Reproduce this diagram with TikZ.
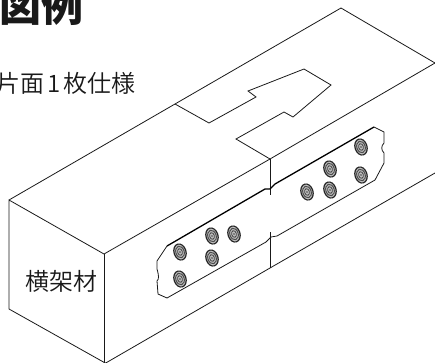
\documentclass[tikz,border=0pt]{standalone}
\usepackage{fontspec}
\newfontfamily\jpfont{Noto Sans CJK JP}
\newfontfamily\jplight{Noto Sans CJK JP DemiLight}
\newcommand{\boltmark}[1]{%
  \begin{scope}[shift={#1},rotate=17]
    \fill[black!25] (0,0) ellipse [x radius=6.2,y radius=8.4];
    \draw[line width=1.2pt,black!85] (0,0) ellipse [x radius=6,y radius=8.2];
    \draw[line width=1pt,black!70] (0,0) ellipse [x radius=4.2,y radius=5.9];
    \draw[line width=.8pt,black!75] (0,0) ellipse [x radius=2.4,y radius=3.4];
    \fill[black!70] (0,0) ellipse [x radius=.8,y radius=1.1];
  \end{scope}}
\tikzset{edge/.style={line width=.8pt,line join=miter,black!90},
  plateedge/.style={line width=1.3pt,black},
  label/.style={inner sep=0pt,font=\jpfont,text=black!90}}
\begin{document}
\begin{tikzpicture}[x=1pt,y=-1pt]
\useasboundingbox (0,0) rectangle (435,362);
\clip (0,0) rectangle (435,362);
% beam outline
\draw[edge] (9,200) -- (341,8) -- (435,63) -- (270,159) -- (104,254) -- (9,200) -- (9,309) -- (107,364);
\draw[edge] (104,254) -- (104,364);
\draw[edge] (104,364) -- (270,268) -- (435,173);
% arrow on the top face
\draw[edge] (175,104) -- (209,123) -- (256,97) -- (248,91) -- (304,69) -- (331,85) -- (293,117) -- (284,112) -- (236,139) -- (270,159);
% joint
\draw[edge] (270,159) -- (270,195);
\draw[edge] (270,232) -- (270,268);
% plate
\draw[edge] (167,298) -- (158,294) -- (157,281) .. controls (159,279) and (159,276) .. (157,269) -- (157,261) -- (167,246);
\draw[plateedge] (167,246) -- (265,189) -- (270,189) -- (275,184) -- (374,127);
\draw[edge] (374,127) -- (384,132) -- (384,143) .. controls (381,146) and (381,150) .. (384,153) -- (384,163) -- (375,180) -- (277,236) -- (271,237) -- (266,242) -- (167,298);
% bolts
\boltmark{(180,252)}
\boltmark{(212,236)}
\boltmark{(234,234)}
\boltmark{(212,258)}
\boltmark{(180,279)}
\boltmark{(361,147)}
\boltmark{(330,169)}
\boltmark{(361,175)}
\boltmark{(330,190)}
\boltmark{(307,192)}
% texts
\node[label,font=\jpfont\bfseries\fontsize{42}{42}\selectfont,anchor=center] (title) at (41,6) {図例};
\node[label,font=\jplight\fontsize{24}{24}\selectfont,anchor=east] (spec) at (136,83) {片面\hspace{2.9pt}1\hspace{2.9pt}枚仕様};
\node[label,font=\jplight\fontsize{24}{24}\selectfont] (beam) at (61,281) {横架材};
\end{tikzpicture}
\end{document}
